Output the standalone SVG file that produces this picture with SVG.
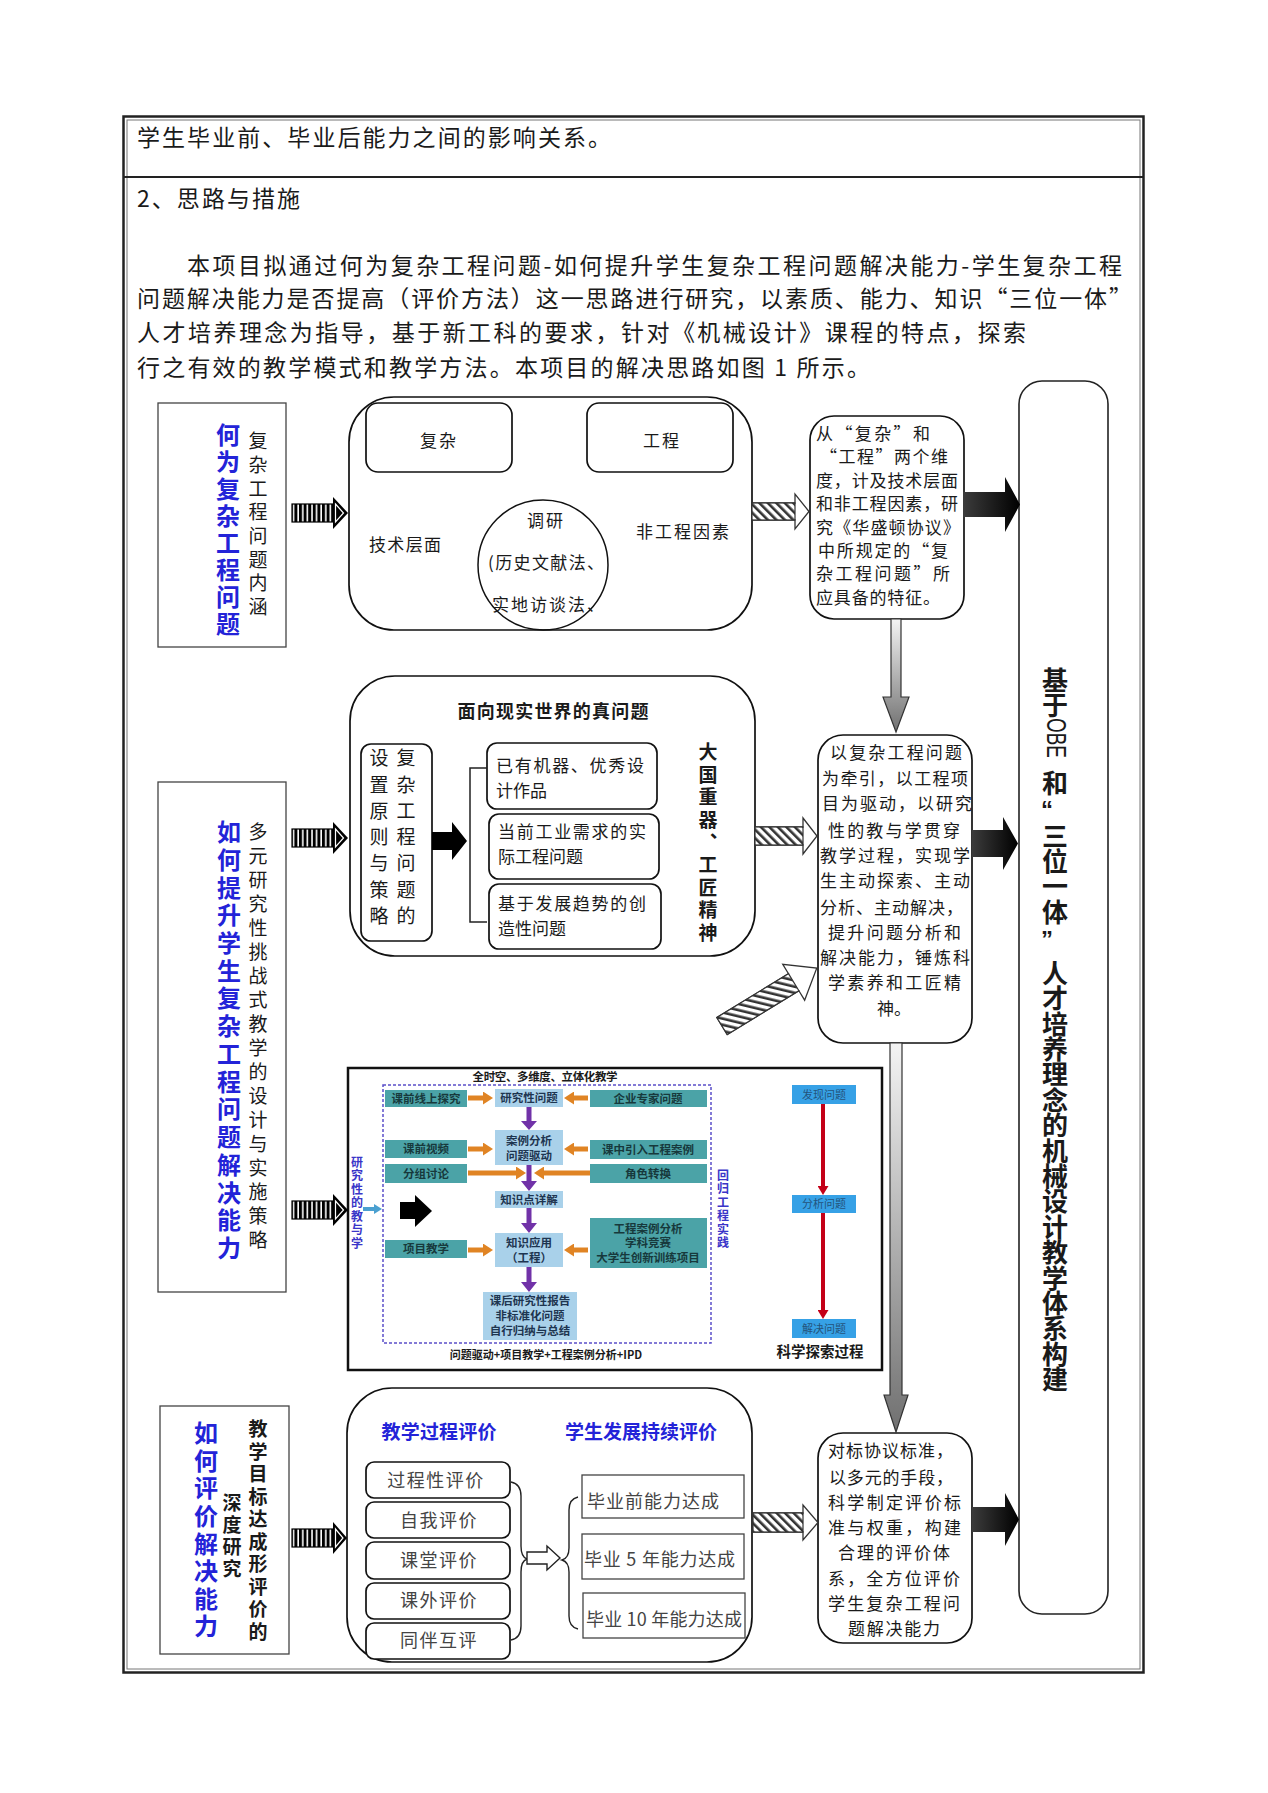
<svg xmlns="http://www.w3.org/2000/svg" width="1268" height="1793" viewBox="0 0 1268 1793">
<defs>
<style>
text{font-family:"Noto Sans CJK SC","Noto Sans",sans-serif;fill:#1a1a1a}
.vt{writing-mode:vertical-rl;text-anchor:start}
.p{font-size:23px}
.t17{font-size:17px}
.g18{font-size:18px;fill:#444}
.blue{fill:#2323d8;font-weight:bold;font-size:24px}
.v19{font-size:19px}
.vb{font-size:19px;font-weight:bold}
.tall{font-size:26px;font-weight:bold}
.bt{fill:#2323d8;font-weight:bold;font-size:19px;text-anchor:middle}
.box{fill:#fff;stroke:#111;stroke-width:1.7}
.sq{fill:#fff;stroke:#444;stroke-width:1.3}
.teal{fill:#4ba3a7}
.lb{fill:#a9d1ea}
.bb{fill:#36a1e6}
.tt{font-size:11.5px;font-weight:bold;fill:#17393c;text-anchor:middle}
.lt{font-size:11.5px;font-weight:bold;fill:#1e3550;text-anchor:middle}
.bbt{font-size:11px;fill:#24547c;text-anchor:middle}
.pv{font-size:12px;font-weight:bold;fill:#3a35c8}
.hs{fill:#fff;stroke:#333;stroke-width:1.3}
.org{stroke:#e08424;stroke-width:5;fill:none}
.pur{fill:#7132a8}
.red{stroke:#c40018;stroke-width:4;fill:none}
</style>
<pattern id="hatch" width="6" height="6" patternUnits="userSpaceOnUse" patternTransform="rotate(-45)"><rect width="6" height="6" fill="#fff"/><rect width="2.6" height="6" fill="#333"/></pattern>
<pattern id="bars" width="4.6" height="10" patternUnits="userSpaceOnUse"><rect width="4.6" height="10" fill="#fff"/><rect width="3" height="10" fill="#000"/></pattern>
<linearGradient id="gv" x1="0" y1="0" x2="0" y2="1"><stop offset="0" stop-color="#f4f4f4"/><stop offset="1" stop-color="#707070"/></linearGradient>
<linearGradient id="gh" x1="0" y1="0" x2="1" y2="0"><stop offset="0" stop-color="#3c3c3c"/><stop offset="1" stop-color="#000"/></linearGradient>
<marker id="mo" markerUnits="userSpaceOnUse" markerWidth="10" markerHeight="13" refX="0" refY="6.5" orient="auto"><path d="M0,0 L10,6.5 L0,13 z" fill="#e08424"/></marker>
<marker id="mr" markerUnits="userSpaceOnUse" markerWidth="10" markerHeight="11" refX="0" refY="5.5" orient="auto"><path d="M0,0 L9,5.5 L0,11 z" fill="#c40018"/></marker>
<marker id="mb" markerUnits="userSpaceOnUse" markerWidth="8" markerHeight="10" refX="0" refY="5" orient="auto"><path d="M0,0 L8,5 L0,10 z" fill="#4aa0d0"/></marker>
</defs>
<rect width="1268" height="1793" fill="#fff"/>

<g id="frame">
<rect x="123.5" y="116.5" width="1020" height="1556" fill="none" stroke="#222" stroke-width="2.5"/>
<rect x="127" y="120" width="1013" height="1549" fill="none" stroke="#777" stroke-width="1"/>
<line x1="124" y1="177" x2="1143" y2="177" stroke="#222" stroke-width="1.8"/>
</g>

<g id="body-text">
<text class="p" x="137" y="146" textLength="474" lengthAdjust="spacing">学生毕业前、毕业后能力之间的影响关系。</text>
<text class="p" x="137" y="207" textLength="163" lengthAdjust="spacing">2、思路与措施</text>
<text class="p" x="187" y="274" textLength="935" lengthAdjust="spacing">本项目拟通过何为复杂工程问题-如何提升学生复杂工程问题解决能力-学生复杂工程</text>
<text class="p" x="137" y="307" textLength="995" lengthAdjust="spacing">问题解决能力是否提高（评价方法）这一思路进行研究，以素质、能力、知识“三位一体”</text>
<text class="p" x="137" y="341" textLength="889" lengthAdjust="spacing">人才培养理念为指导，基于新工科的要求，针对《机械设计》课程的特点，探索</text>
<text class="p" x="137" y="376" textLength="733" lengthAdjust="spacing">行之有效的教学模式和教学方法。本项目的解决思路如图 1 所示。</text>
</g>

<g id="node-a-left">
<rect x="158" y="403" width="128" height="244" fill="#fff" stroke="#444" stroke-width="1.3"/>
<text class="vt blue" x="228" y="423" letter-spacing="3">何为复杂工程问题</text>
<text class="vt v19" x="258" y="431.5" letter-spacing="4.7">复杂工程问题内涵</text>
</g>

<g id="node-a-main">
<rect class="box" x="349" y="397" width="403" height="233" rx="45"/>
<rect class="box" x="366" y="403" width="146" height="69" rx="12"/>
<text class="t17" x="439" y="447" text-anchor="middle" letter-spacing="2">复杂</text>
<rect class="box" x="587" y="403" width="146" height="69" rx="12"/>
<text class="t17" x="662" y="447" text-anchor="middle" letter-spacing="2">工程</text>
<text class="t17" x="369" y="551" textLength="72" lengthAdjust="spacing">技术层面</text>
<text class="t17" x="636" y="538" textLength="93" lengthAdjust="spacing">非工程因素</text>
<circle cx="543" cy="565" r="65" fill="none" stroke="#111" stroke-width="1.5"/>
<text class="t17" x="546" y="527" text-anchor="middle" letter-spacing="2">调研</text>
<text class="t17" x="546" y="569" text-anchor="middle" textLength="116" lengthAdjust="spacing">(历史文献法、</text>
<text class="t17" x="548" y="611" text-anchor="middle" textLength="112" lengthAdjust="spacing">实地访谈法、</text>
</g>

<g id="node-a-result">
<rect class="box" x="810" y="416" width="154" height="203" rx="24"/>
<text class="t17">
<tspan x="816" y="439.5" textLength="114" lengthAdjust="spacing">从“复杂”和</tspan>
<tspan x="820" y="463" textLength="128" lengthAdjust="spacing">“工程”两个维</tspan>
<tspan x="816" y="486.5" textLength="142" lengthAdjust="spacing">度，计及技术层面</tspan>
<tspan x="816" y="510" textLength="142" lengthAdjust="spacing">和非工程因素，研</tspan>
<tspan x="816" y="533.5" textLength="144" lengthAdjust="spacing">究《华盛顿协议》</tspan>
<tspan x="818" y="557" textLength="130" lengthAdjust="spacing">中所规定的“复</tspan>
<tspan x="816" y="580" textLength="134" lengthAdjust="spacing">杂工程问题”所</tspan>
<tspan x="816" y="603.5" textLength="124" lengthAdjust="spacing">应具备的特征。</tspan>
</text>
</g>

<g id="node-b-left">
<rect x="158" y="782" width="128" height="510" fill="#fff" stroke="#444" stroke-width="1.3"/>
<text class="vt blue" x="229" y="820" letter-spacing="3.73">如何提升学生复杂工程问题解决能力</text>
<text class="vt v19" x="258" y="822.5" letter-spacing="5">多元研究性挑战式教学的设计与实施策略</text>
</g>

<g id="node-b-main">
<rect class="box" x="350" y="676" width="405" height="280" rx="45"/>
<text x="553" y="718" font-size="18" font-weight="bold" text-anchor="middle" textLength="191" lengthAdjust="spacing">面向现实世界的真问题</text>
<rect class="box" x="361" y="744" width="71" height="197" rx="10"/>
<text class="vt v19" x="406" y="748.5" letter-spacing="7.3">复杂工程问题的</text>
<text class="vt v19" x="379" y="748.5" letter-spacing="7.3">设置原则与策略</text>
<rect class="box" x="487" y="743" width="170" height="66" rx="10"/>
<text class="t17"><tspan x="496" y="771.5" textLength="148" lengthAdjust="spacing">已有机器、优秀设</tspan><tspan x="496" y="797">计作品</tspan></text>
<rect class="box" x="489" y="814" width="170" height="65" rx="10"/>
<text class="t17"><tspan x="498" y="837.5" textLength="148" lengthAdjust="spacing">当前工业需求的实</tspan><tspan x="498" y="862.5">际工程问题</tspan></text>
<rect class="box" x="489" y="884" width="172" height="65" rx="10"/>
<text class="t17"><tspan x="498" y="909.5" textLength="148" lengthAdjust="spacing">基于发展趋势的创</tspan><tspan x="498" y="935">造性问题</tspan></text>
<text class="vt vb" x="708" y="742.5" letter-spacing="3.6">大国重器、工匠精神</text>
</g>

<g id="node-b-result">
<rect class="box" x="818" y="735" width="154" height="308" rx="25"/>
<text class="t17">
<tspan x="830" y="758.5" textLength="132" lengthAdjust="spacing">以复杂工程问题</tspan>
<tspan x="822" y="784.5" textLength="146" lengthAdjust="spacing">为牵引，以工程项</tspan>
<tspan x="822" y="809.5" textLength="150" lengthAdjust="spacing">目为驱动，以研究</tspan>
<tspan x="828" y="836.5" textLength="132" lengthAdjust="spacing">性的教与学贯穿</tspan>
<tspan x="820" y="861.5" textLength="150" lengthAdjust="spacing">教学过程，实现学</tspan>
<tspan x="820" y="886.5" textLength="150" lengthAdjust="spacing">生主动探索、主动</tspan>
<tspan x="820" y="913.5" textLength="143" lengthAdjust="spacing">分析、主动解决，</tspan>
<tspan x="828" y="938.5" textLength="133" lengthAdjust="spacing">提升问题分析和</tspan>
<tspan x="820" y="963.5" textLength="150" lengthAdjust="spacing">解决能力，锤炼科</tspan>
<tspan x="828" y="988.5" textLength="133" lengthAdjust="spacing">学素养和工匠精</tspan>
<tspan x="877" y="1014.5">神。</tspan>
</text>
</g>

<g id="node-b-teaching">
<rect x="348" y="1068" width="534" height="302" fill="#fff" stroke="#111" stroke-width="2.5"/>
<text x="545" y="1081" font-size="11.5" font-weight="bold" fill="#3a35c8" text-anchor="middle" textLength="145" lengthAdjust="spacing">全时空、多维度、立体化教学</text>
<rect x="383" y="1085" width="328" height="258" fill="none" stroke="#5b4fc9" stroke-width="1.5" stroke-dasharray="3 2"/>
<rect class="teal" x="385" y="1090" width="82" height="17"/><text class="tt" x="426" y="1102.5">课前线上探究</text>
<rect class="teal" x="385" y="1140" width="82" height="18"/><text class="tt" x="426" y="1153">课前视频</text>
<rect class="teal" x="385" y="1164" width="82" height="19"/><text class="tt" x="426" y="1177.5">分组讨论</text>
<rect class="teal" x="385" y="1240" width="82" height="18"/><text class="tt" x="426" y="1253">项目教学</text>
<rect class="teal" x="590" y="1090" width="117" height="17"/><text class="tt" x="648" y="1102.5">企业专家问题</text>
<rect class="teal" x="590" y="1140" width="117" height="19"/><text class="tt" x="648" y="1153.5">课中引入工程案例</text>
<rect class="teal" x="590" y="1164" width="117" height="19"/><text class="tt" x="648" y="1177.5">角色转换</text>
<rect class="teal" x="590" y="1218" width="117" height="50"/><text class="tt"><tspan x="648" y="1233">工程案例分析</tspan><tspan x="648" y="1247">学科竞赛</tspan><tspan x="648" y="1262">大学生创新训练项目</tspan></text>
<rect class="lb" x="495" y="1089" width="68" height="18"/><text class="lt" x="529" y="1102">研究性问题</text>
<rect class="lb" x="495" y="1130" width="68" height="35"/><text class="lt"><tspan x="529" y="1145">案例分析</tspan><tspan x="529" y="1160">问题驱动</tspan></text>
<rect class="lb" x="495" y="1191" width="68" height="17"/><text class="lt" x="529" y="1203.5">知识点详解</text>
<rect class="lb" x="495" y="1233" width="68" height="34"/><text class="lt"><tspan x="529" y="1247">知识应用</tspan><tspan x="529" y="1262">（工程）</tspan></text>
<rect class="lb" x="483" y="1292" width="94" height="48"/><text class="lt"><tspan x="530" y="1305">课后研究性报告</tspan><tspan x="530" y="1320">非标准化问题</tspan><tspan x="530" y="1335">自行归纳与总结</tspan></text>
<text class="vt pv" x="357" y="1156" letter-spacing="1.5">研究性的教与学</text>
<text class="vt pv" x="723" y="1169" letter-spacing="1.5">回归工程实践</text>
<text x="546" y="1359" font-size="11" font-weight="bold" fill="#e0303a" text-anchor="middle">问题驱动+项目教学+工程案例分析+IPD</text>
<rect class="bb" x="792" y="1085" width="64" height="19"/><text class="bbt" x="824" y="1098.5">发现问题</text>
<rect class="bb" x="792" y="1195" width="64" height="18"/><text class="bbt" x="824" y="1208">分析问题</text>
<rect class="bb" x="792" y="1319" width="64" height="19"/><text class="bbt" x="824" y="1332.5">解决问题</text>
<text x="820" y="1357" font-size="14.5" font-weight="bold" text-anchor="middle">科学探索过程</text>
</g>

<g id="node-c-left">
<rect x="160" y="1406" width="129" height="248" fill="#fff" stroke="#444" stroke-width="1.3"/>
<text class="vt blue" x="206" y="1421" letter-spacing="3.6">如何评价解决能力</text>
<text class="vt vb" x="232" y="1493.5" letter-spacing="3">深度研究</text>
<text class="vt vb" x="258" y="1419.5" letter-spacing="3.5">教学目标达成形评价的</text>
</g>

<g id="node-c-main">
<rect class="box" x="347" y="1388" width="405" height="274" rx="45"/>
<text class="bt" x="439" y="1439" textLength="115" lengthAdjust="spacing">教学过程评价</text>
<text class="bt" x="641" y="1439" textLength="152" lengthAdjust="spacing">学生发展持续评价</text>
<rect class="box" x="366" y="1462" width="144" height="36" rx="8"/><text class="g18" x="436" y="1486.5" text-anchor="middle" letter-spacing="1.5">过程性评价</text>
<rect class="box" x="366" y="1502" width="144" height="36" rx="8"/><text class="g18" x="439" y="1526.5" text-anchor="middle" letter-spacing="1.5">自我评价</text>
<rect class="box" x="366" y="1542" width="144" height="37" rx="8"/><text class="g18" x="439" y="1567" text-anchor="middle" letter-spacing="1.5">课堂评价</text>
<rect class="box" x="366" y="1583" width="144" height="36" rx="8"/><text class="g18" x="439" y="1607" text-anchor="middle" letter-spacing="1.5">课外评价</text>
<rect class="box" x="366" y="1623" width="144" height="36" rx="8"/><text class="g18" x="439" y="1647" text-anchor="middle" letter-spacing="1.5">同伴互评</text>
<rect class="sq" x="582" y="1475" width="162" height="43"/><text class="g18" x="587" y="1508" textLength="132" lengthAdjust="spacing">毕业前能力达成</text>
<rect class="sq" x="582" y="1534" width="162" height="45"/><text class="g18" x="584" y="1566" textLength="151" lengthAdjust="spacing">毕业 5 年能力达成</text>
<rect class="sq" x="583" y="1593" width="162" height="45"/><text class="g18" x="586" y="1626" textLength="156" lengthAdjust="spacing">毕业 10 年能力达成</text>
</g>

<g id="node-c-result">
<rect class="box" x="818" y="1433" width="154" height="210" rx="25"/>
<text class="t17">
<tspan x="828" y="1457" textLength="125" lengthAdjust="spacing">对标协议标准，</tspan>
<tspan x="829" y="1484" textLength="124" lengthAdjust="spacing">以多元的手段，</tspan>
<tspan x="828" y="1509" textLength="133" lengthAdjust="spacing">科学制定评价标</tspan>
<tspan x="828" y="1534" textLength="133" lengthAdjust="spacing">准与权重，构建</tspan>
<tspan x="838" y="1559" textLength="112" lengthAdjust="spacing">合理的评价体</tspan>
<tspan x="828" y="1585" textLength="132" lengthAdjust="spacing">系，全方位评价</tspan>
<tspan x="828" y="1610" textLength="132" lengthAdjust="spacing">学生复杂工程问</tspan>
<tspan x="848" y="1635" textLength="92" lengthAdjust="spacing">题解决能力</tspan>
</text>
</g>

<g id="node-goal">
<rect x="1019" y="381" width="89" height="1233" rx="23" fill="#fff" stroke="#222" stroke-width="1.6"/>
<text class="vt tall" x="1055" y="667" letter-spacing="-1">基于</text>
<text transform="translate(1047,738) rotate(90)" font-size="27" text-anchor="middle" textLength="40" lengthAdjust="spacingAndGlyphs" style="font-family:'Liberation Sans',sans-serif">OBE</text>
<text class="vt tall" x="1055" y="770">和</text>
<text x="1047" y="818" font-size="24" font-weight="bold" text-anchor="middle" style="font-family:'Liberation Sans',sans-serif">“</text>
<text class="vt tall" x="1055" y="823" letter-spacing="-0.7">三位一体</text>
<text x="1047" y="948" font-size="24" font-weight="bold" text-anchor="middle" style="font-family:'Liberation Sans',sans-serif">”</text>
<text class="vt tall" x="1055" y="960" letter-spacing="-0.6">人才培养理念的机械设计教学体系构建</text>
</g>

<g id="connectors">
<g>
<rect x="292" y="504" width="41" height="18" fill="url(#bars)" stroke="#000" stroke-width="1.2"/>
<path d="M333,497 L348,513 L333,529 z" fill="#000"/><path d="M335.5,504 L343.5,513 L335.5,522 z" fill="none" stroke="#fff" stroke-width="1.2"/>
</g>
<g>
<rect x="292" y="829" width="41" height="18" fill="url(#bars)" stroke="#000" stroke-width="1.2"/>
<path d="M333,822 L348,838 L333,854 z" fill="#000"/><path d="M335.5,829 L343.5,838 L335.5,847 z" fill="none" stroke="#fff" stroke-width="1.2"/>
</g>
<g>
<rect x="292" y="1201" width="41" height="18" fill="url(#bars)" stroke="#000" stroke-width="1.2"/>
<path d="M333,1194 L348,1210 L333,1226 z" fill="#000"/><path d="M335.5,1201 L343.5,1210 L335.5,1219 z" fill="none" stroke="#fff" stroke-width="1.2"/>
</g>
<g>
<rect x="292" y="1529" width="41" height="18" fill="url(#bars)" stroke="#000" stroke-width="1.2"/>
<path d="M333,1522 L347,1538 L333,1554 z" fill="#000"/><path d="M335.5,1529 L343,1538 L335.5,1547 z" fill="none" stroke="#fff" stroke-width="1.2"/>
</g>
<g>
<path class="hs" d="M752,503 L795,503 L795,494 L809,511.5 L795,529 L795,520 L752,520 z"/>
<rect x="752" y="503" width="43" height="17" fill="url(#hatch)" stroke="#333" stroke-width="1.2"/>
</g>
<g>
<path class="hs" d="M755,827 L803,827 L803,818 L817,836 L803,854 L803,845 L755,845 z"/>
<rect x="755" y="827" width="48" height="18" fill="url(#hatch)" stroke="#333" stroke-width="1.2"/>
</g>
<g>
<path class="hs" d="M753,1513 L803,1513 L803,1505 L818,1522.5 L803,1540 L803,1532 L753,1532 z"/>
<rect x="753" y="1513" width="50" height="19" fill="url(#hatch)" stroke="#333" stroke-width="1.2"/>
</g>
<g transform="translate(722,1026) rotate(-31.4)">
<path class="hs" d="M0,-10 L84,-10 L84,-21 L111,0 L84,21 L84,10 L0,10 z"/>
<rect x="0" y="-10" width="84" height="20" fill="url(#hatch)" stroke="#333" stroke-width="1.2"/>
</g>
<path d="M963,492 L1005,492 L1005,477 L1020,504.5 L1005,532 L1005,517 L963,517 z" fill="url(#gh)"/>
<path d="M972,830 L1003,830 L1003,817 L1018,843.5 L1003,870 L1003,857 L972,857 z" fill="url(#gh)"/>
<path d="M972,1507 L1005,1507 L1005,1493 L1019,1519.5 L1005,1546 L1005,1532 L972,1532 z" fill="url(#gh)"/>
<path d="M891,619 L901,619 L901,697 L909,697 L896,732 L883,697 L891,697 z" fill="url(#gv)" stroke="#333" stroke-width="1.2"/>
<path d="M890,1043 L902,1043 L902,1395 L908,1395 L896,1432 L884,1395 L890,1395 z" fill="url(#gv)" stroke="#333" stroke-width="1.2"/>
<path d="M432,832 L452,832 L452,822 L467,841 L452,860 L452,850 L432,850 z" fill="#000"/>
<path d="M487,768 L470,768 L470,922 L487,922" fill="none" stroke="#222" stroke-width="1.5"/>
<path d="M511,1482 Q521,1484 521,1496 L521,1546 Q521,1557 527,1559 Q521,1561 521,1572 L521,1626 Q521,1638 511,1640" fill="none" stroke="#222" stroke-width="1.4"/>
<path d="M578,1497 Q569,1499 569,1510 L569,1548 Q569,1558 562,1560 Q569,1562 569,1572 L569,1616 Q569,1627 578,1629" fill="none" stroke="#222" stroke-width="1.4"/>
<path d="M527,1552 L547,1552 L547,1546 L560,1558 L547,1570 L547,1564 L527,1564 z" fill="#fff" stroke="#222" stroke-width="1.4"/>
<line class="org" x1="468" y1="1098" x2="483" y2="1098" marker-end="url(#mo)"/>
<line class="org" x1="468" y1="1149" x2="483" y2="1149" marker-end="url(#mo)"/>
<line class="org" x1="468" y1="1173" x2="516" y2="1173" marker-end="url(#mo)"/>
<line class="org" x1="468" y1="1250" x2="483" y2="1250" marker-end="url(#mo)"/>
<line class="org" x1="588" y1="1098" x2="574" y2="1098" marker-end="url(#mo)"/>
<line class="org" x1="588" y1="1149" x2="574" y2="1149" marker-end="url(#mo)"/>
<line class="org" x1="590" y1="1173" x2="544" y2="1173" marker-end="url(#mo)"/>
<line class="org" x1="588" y1="1250" x2="574" y2="1250" marker-end="url(#mo)"/>
<path class="pur" d="M526.5,1107 L531.5,1107 L531.5,1121 L537,1121 L529,1130 L521,1121 L526.5,1121 z"/>
<path class="pur" d="M526.5,1165 L531.5,1165 L531.5,1181 L537,1181 L529,1191 L521,1181 L526.5,1181 z"/>
<path class="pur" d="M526.5,1208 L531.5,1208 L531.5,1223 L537,1223 L529,1233 L521,1223 L526.5,1223 z"/>
<path class="pur" d="M526.5,1267 L531.5,1267 L531.5,1282 L537,1282 L529,1292 L521,1282 L526.5,1282 z"/>
<line class="red" x1="823" y1="1104" x2="823" y2="1186" marker-end="url(#mr)"/>
<line class="red" x1="823" y1="1213" x2="823" y2="1310" marker-end="url(#mr)"/>
<line x1="363" y1="1209" x2="374" y2="1209" stroke="#4aa0d0" stroke-width="4" marker-end="url(#mb)"/>
<path d="M400,1202 L415,1202 L415,1195 L432,1211 L415,1227 L415,1219 L400,1219 z" fill="#000"/>
</g>
</svg>
